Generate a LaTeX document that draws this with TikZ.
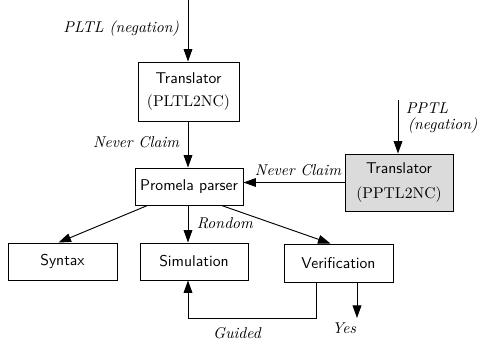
\documentclass[tikz,border=0pt]{standalone}
\usetikzlibrary{arrows.meta,calc}
\begin{document}
\begin{tikzpicture}[x=0.64pt,y=-0.64pt,
  box/.style={draw,line width=0.6pt,inner sep=0pt,align=center,font=\sffamily},
  arr/.style={line width=0.6pt,-{Triangle[length=8pt,width=5.6pt]}},
  lbl/.style={font=\itshape,inner sep=1pt}]
\useasboundingbox (0,0) rectangle (478,342);
% boxes
\node[box,minimum width=101*0.64pt,minimum height=59*0.64pt] (t1) at (188.5,91.5)
  {Translator\\[3pt]\rmfamily (PLTL2NC)};
\node[box,minimum width=108*0.64pt,minimum height=37*0.64pt] (pp) at (189,186.5) {Promela parser};
\node[box,fill=black!14,minimum width=108*0.64pt,minimum height=57*0.64pt] (t2) at (399,182.5)
  {Translator\\[4pt]\rmfamily (PPTL2NC)};
\node[box,minimum width=109*0.64pt,minimum height=37*0.64pt] (syn) at (62.5,261.5) {Syntax};
\node[box,minimum width=108*0.64pt,minimum height=37*0.64pt] (sim) at (194,261.5) {Simulation};
\node[box,minimum width=109*0.64pt,minimum height=38*0.64pt] (ver) at (338.5,263) {Verification};
% coordinates
\coordinate (in1) at (188,0);
\coordinate (in2) at (398,100);
\coordinate (loop) at (316,318);
\coordinate (yesend) at (357,318);
% labels
\node[lbl,anchor=east] (l1) at (181,29) {PLTL (negation)};
\node[lbl,anchor=east] (l2) at (181,142) {Never Claim};
\node[lbl,anchor=north west,align=left] (l3) at (404,101) {PPTL\\[-2pt]\hspace{1.2pt}(negation)};
\node[lbl] (l4) at (298,170) {Never Claim};
\node[lbl,anchor=west] (l5) at (195,223) {Rondom};
\node[lbl] (l6) at (237,333) {Guided};
\node[lbl] (yes) at (344,328) {Yes};
% connectors
\draw[arr] (in1) -- (in1 |- t1.north);
\draw[arr] (t1.south -| in1) -- (pp.north -| in1);
\draw[arr] (in2) -- (t2.north -| in2);
\draw[arr] (t2.west) -- (pp.east |- t2.west);
\draw[arr] ($(pp.south west)+(13,0)$) -- ($(syn.north)+(-4,0)$);
\draw[arr] (pp.south -| in1) -- (sim.north -| in1);
\draw[arr] ($(pp.south west)+(87,0)$) -- ($(ver.north)+(-8,0)$);
\draw[arr] (ver.south -| loop) -- (loop) -| (sim.south -| in1);
\draw[arr] (ver.south -| yesend) -- (yesend);
\end{tikzpicture}
\end{document}
